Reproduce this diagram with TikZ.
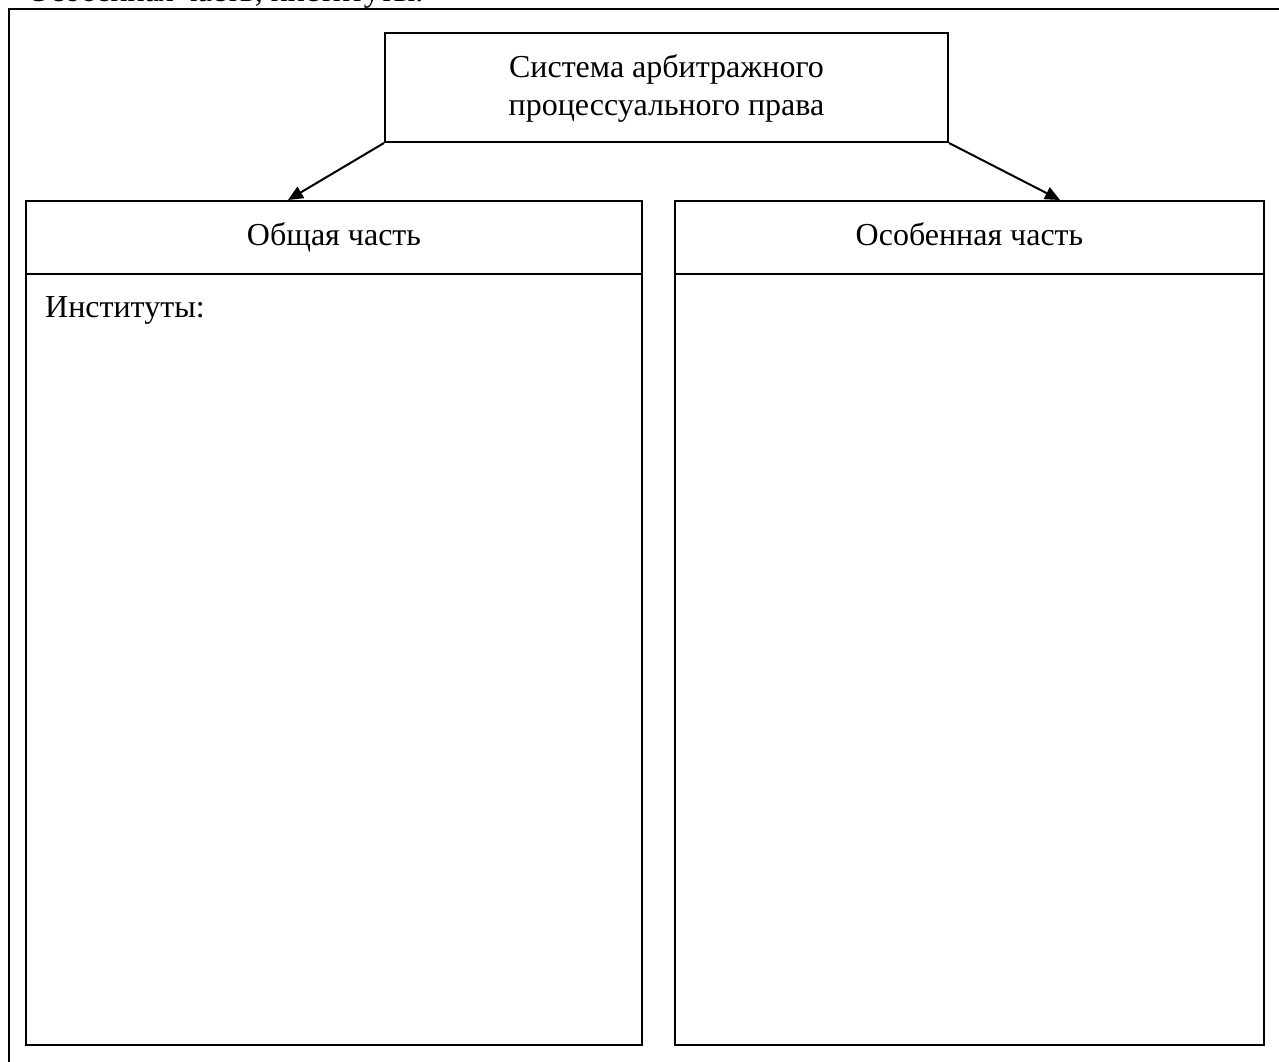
\documentclass[tikz,border=0pt]{standalone}
\usepackage{fontspec}
\setmainfont{Liberation Serif}
\usetikzlibrary{arrows.meta}
\tikzset{
  frame/.style={draw, line width=2pt},
  box/.style={draw, line width=2pt, rectangle, inner sep=0pt},
  lbl/.style={font=\fontsize{32}{38}\selectfont, inner sep=0pt},
  arr/.style={line width=2pt, -{Triangle[length=15pt,width=13pt]}}
}
\begin{document}
\begin{tikzpicture}[x=1pt,y=-1pt]
\useasboundingbox (0,0) rectangle (1279,1061);
\clip (0,0) rectangle (1279,1061);
% cut-off text at the very top
\node[lbl, anchor=base west] (cut) at (27,1.5) {Особенная часть, институты.};
% outer frame (cut by the page)
\draw[frame] (9,9) rectangle (1300,1080);
% top box
\node[box, minimum width=563pt, minimum height=109pt] (top) at (666.5,87.5) {};
\node[lbl, anchor=base] (topA) at (666.5,77) {Система арбитражного};
\node[lbl, anchor=base] (topB) at (666.5,115) {процессуального права};
% left box
\node[box, minimum width=616pt, minimum height=844pt] (gen) at (334,623) {};
\coordinate (genL) at (26,274);
\coordinate (genR) at (642,274);
\draw[frame] (genL) -- (genR);
\node[lbl, anchor=base] (genT) at (334,245) {Общая часть};
\node[lbl, anchor=base west] (inst) at (45,317) {Институты:};
% right box
\node[box, minimum width=589pt, minimum height=844pt] (spec) at (969.5,623) {};
\coordinate (specL) at (675,274);
\coordinate (specR) at (1264,274);
\draw[frame] (specL) -- (specR);
\node[lbl, anchor=base] (specT) at (969.5,245) {Особенная часть};
% arrows
\draw[arr] (top.south west) -- (288,0 |- gen.north);
\draw[arr] (top.south east) -- (1060,0 |- spec.north);
\end{tikzpicture}
\end{document}
